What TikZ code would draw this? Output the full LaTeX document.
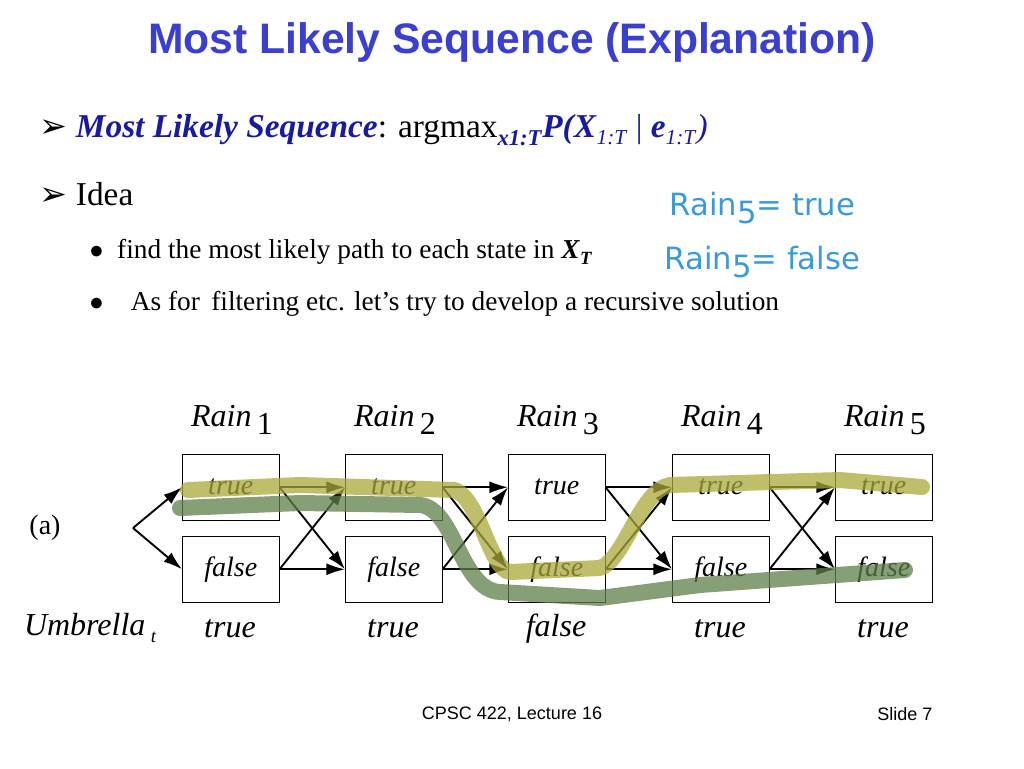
\documentclass[tikz,border=0pt]{standalone}
\usepackage{amsmath}
\usepackage{amssymb}
\usepackage{fontspec}
\setmainfont{Liberation Serif}
\newfontfamily\arialfont{Liberation Sans}
\newfontfamily\handfont{DejaVu Sans}
\usetikzlibrary{arrows.meta}
\definecolor{titleblue}{HTML}{3A3FD0}
\definecolor{seqblue}{HTML}{1A1AA0}
\definecolor{inkblue}{HTML}{3A9AD8}
\definecolor{hlyellow}{HTML}{A8A83A}
\definecolor{hlgreen}{HTML}{5E7F4A}
\newcommand{\arrowbullet}{{\handfont\char"27A2}}
\tikzset{
  state/.style={draw,minimum width=72.75pt,minimum height=49.5pt,inner sep=0pt,font=\itshape\fontsize{21}{21}\selectfont},
  varlabel/.style={font=\itshape\fontsize{24}{24}\selectfont},
  trans/.style={-{Latex[length=14pt,width=9pt]},line width=1.4pt},
  marker/.style={line width=12pt,line cap=round,line join=round,opacity=0.75}
}
\begin{document}
\begin{tikzpicture}[x=0.75pt,y=-0.75pt]
		\useasboundingbox (0,0) rectangle (1024,768);
		%title and bullets
		\node (title) at (512,42) {\arialfont\bfseries\fontsize{32}{32}\selectfont\color{titleblue}Most Likely Sequence (Explanation)};
		\node[anchor=west] (b1) at (35,130) {\fontsize{25}{25}\selectfont \arrowbullet\ \textcolor{seqblue}{\textbf{\textit{Most Likely Sequence}}}: argmax\raisebox{-6pt}{\fontsize{17}{17}\selectfont\textcolor{seqblue}{\textbf{\textit{x1:T}}}}\textcolor{seqblue}{\textbf{\textit{P(X}}\raisebox{-5pt}{\fontsize{16}{16}\selectfont\textit{1:T}} | \textbf{\textit{e}}\raisebox{-5pt}{\fontsize{16}{16}\selectfont\textit{1:T}}\textit{)}}};
		\node[anchor=west] (b2) at (35,194) {\fontsize{25}{25}\selectfont \arrowbullet\ Idea};
		\node[anchor=west] (b3) at (85,252) {\fontsize{20.5}{20.5}\selectfont $\bullet$\enspace find the most likely path to each state in \textbf{\textit{X}}\raisebox{-4pt}{\fontsize{14}{14}\selectfont\textbf{\textit{T}}}};
		\node[anchor=west] (b4) at (85,304) {\fontsize{20.5}{20.5}\selectfont $\bullet$\quad As for\, filtering etc. let's try to develop a recursive solution};
		%handwriting
		\node[anchor=west,text=inkblue] (h1) at (665,208) {\handfont\fontsize{23}{23}\selectfont Rain\raisebox{-6pt}{5}= true};
		\node[anchor=west,text=inkblue] (h2) at (660,262) {\handfont\fontsize{23}{23}\selectfont Rain\raisebox{-6pt}{5}= false};
		%states
		\foreach \i/\x/\u in {1/182/true,2/345/true,3/508/false,4/672/true,5/835/true}{
			\node[state,anchor=north west] (t\i) at (\x,454) {true};
			\node[state,anchor=north west] (f\i) at (\x,536) {false};
			\node[varlabel] (r\i) at (\x+50,420) {Rain\,\raisebox{-6pt}{\upshape\i}};
			\node[varlabel] (u\i) at (\x+48,629) {\u};
		}
		\node[font=\fontsize{21}{21}\selectfont] (a) at (45,528) {(a)};
		\node[varlabel] (umb) at (90,628) {Umbrella\,\raisebox{-5pt}{\fontsize{14}{14}\selectfont t}};
		\coordinate (start) at (133,528);
		\draw[trans] (start) -- (t1.west);
		\draw[trans] (start) -- (f1.west);
		\foreach \i [count=\j from 2] in {1,...,4}{
			\draw[trans] (t\i.east) -- (t\j.west);
			\draw[trans] (t\i.east) -- (f\j.west);
			\draw[trans] (f\i.east) -- (t\j.west);
			\draw[trans] (f\i.east) -- (f\j.west);
		}
		%highlighter strokes
		\draw[marker,hlgreen] (180,508) -- (300,503) -- (420,505) .. controls (455,508) and (460,590) .. (500,592) -- (600,598) -- (700,585) -- (905,570);
		\draw[marker,hlyellow] (188,490) -- (300,485) -- (455,490) .. controls (480,500) and (490,570) .. (510,572) -- (600,568) .. controls (625,560) and (640,490) .. (670,485) -- (840,480) -- (922,487);
		%footer
		\node (foot) at (512,714) {\arialfont\fontsize{13.5}{13.5}\selectfont CPSC 422, Lecture 16};
		\node (slide) at (905,714) {\arialfont\fontsize{13.5}{13.5}\selectfont Slide 7};
\end{tikzpicture}
\end{document}
